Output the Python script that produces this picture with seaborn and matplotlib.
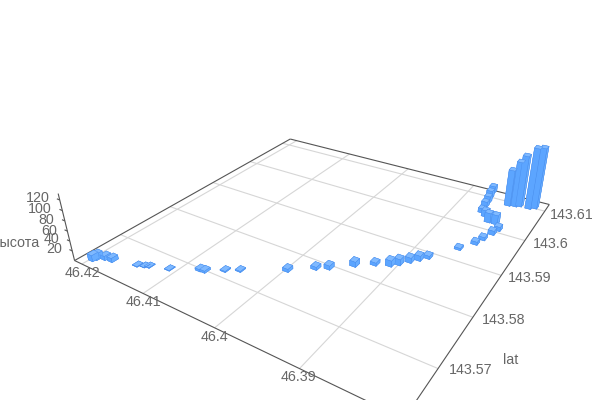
import numpy as np
import matplotlib
matplotlib.use("Agg")
import matplotlib.pyplot as plt
import seaborn as sns
from mpl_toolkits.mplot3d.art3d import Line3DCollection

# ── Data ─────────────────────────────────────────────────────────────────────
lon = [46.4197, 46.4195, 46.4187, 46.4177, 46.4146, 46.4138, 46.4133, 46.4110,
       46.4080, 46.4074, 46.4056, 46.4042, 46.3998, 46.3974, 46.3962, 46.3941,
       46.3923, 46.3908, 46.3901, 46.3893, 46.3886, 46.3879, 46.3857, 46.3845,
       46.3841, 46.3836, 46.3833, 46.3841, 46.3850, 46.3858, 46.3865, 46.3867,
       46.3868, 46.3870, 46.3872, 46.3843, 46.3835, 46.3830, 46.3818, 46.3812]
lat = [143.5637, 143.5642, 143.5648, 143.5650, 143.5661, 143.5665, 143.5668, 143.5678,
       143.5699, 143.5700, 143.5716, 143.5727, 143.5761, 143.5785, 143.5795, 143.5819,
       143.5836, 143.5845, 143.5854, 143.5867, 143.5878, 143.5889, 143.5932, 143.5957,
       143.5974, 143.5995, 143.6010, 143.6026, 143.6026, 143.6040, 143.6049, 143.6069,
       143.6085, 143.6101, 143.6122, 143.6092, 143.6095, 143.6099, 143.6099, 143.6105]
height = [12.5, 12.5, 8.4, 8.3, 1.0, 0.5, 1.0, 1.0,
          4.1, 4.1, 2.0, 2.0, 6.1, 6.1, 8.2, 10.2,
          6.1, 12.2, 12.3, 10.3, 10.3, 6.2, 4.2, 6.3,
          6.4, 8.6, 8.6, 19.6, 19.7, 13.3, 9.0, 11.3,
          13.7, 16.1, 14.0, 77.3, 96.2, 108.8, 128.8, 128.8]

lon_ticks = [46.42, 46.41, 46.40, 46.39]
lon_labels = ["46.42", "46.41", "46.4", "46.39"]
lat_ticks = [143.57, 143.58, 143.59, 143.60, 143.61]
lat_labels = ["143.57", "143.58", "143.59", "143.6", "143.61"]
z_ticks = [20, 40, 60, 80, 100, 120]
z_labels = ["20", "40", "60", "80", "100", "120"]

# ── Frame and camera ─────────────────────────────────────────────────────────
XMAX, XMIN, YMIN, YMAX, ZMAX = 46.4213, 46.3798, 143.562, 143.6125, 132
X0, Y0 = 46.4, 143.59
BAR_DX, BAR_DY = 0.00075, 0.0011

# where the floor grid sits in the picture (lon, lat, pixel x, pixel y)
FLOOR_ANCHORS = [
    (XMAX, YMIN, 73, 259), (46.42, YMIN, 83, 264), (46.41, YMIN, 143, 293),
    (46.40, YMIN, 215, 327), (46.39, YMIN, 299, 366),
    (XMAX, YMAX, 292, 138), (46.42, YMAX, 297, 140), (46.41, YMAX, 350, 153),
    (46.40, YMAX, 407, 168), (46.39, YMAX, 472, 185), (XMIN, YMAX, 550, 205),
    (XMIN, 143.61, 546, 209), (XMIN, 143.60, 523, 242), (XMIN, 143.59, 500, 278),
    (XMIN, 143.58, 473, 319), (XMIN, 143.57, 442, 368),
    (XMAX, 143.57, 120, 235), (XMAX, 143.58, 170, 208), (XMAX, 143.59, 212, 184),
    (XMAX, 143.60, 250, 163), (XMAX, 143.61, 283, 144),
]
VERTICAL_VANISH = np.array([340, 1344, 1.0])
Z_ANCHOR = (120, 200)  # z value, pixel y on the corner axis


def fit_camera():
    """Return the 3x4 data -> image pixel matrix of the reference's view."""
    rows = []
    for x, y, u, v in FLOOR_ANCHORS:
        a, b = (x - X0) * 100, (y - Y0) * 100
        rows.append([a, b, 1, 0, 0, 0, -u * a, -u * b, -u])
        rows.append([0, 0, 0, a, b, 1, -v * a, -v * b, -v])
    _, _, vt = np.linalg.svd(np.array(rows, float) / 100)
    H = vt[-1].reshape(3, 3)
    if H[2, 2] < 0:
        H = -H
    p = H @ [(XMAX - X0) * 100, (YMIN - Y0) * 100, 1]
    z, py = Z_ANCHOR
    s = (p[1] - py * p[2]) / (z * (py - VERTICAL_VANISH[1]))
    P = np.column_stack([H[:, 0], H[:, 1], s * VERTICAL_VANISH, H[:, 2]])
    shift = np.array([[100, 0, 0, -100 * X0],
                      [0, 100, 0, -100 * Y0],
                      [0, 0, 1, 0],
                      [0, 0, 0, 1]], float)
    return P @ shift


def px_text(u, v, s, **kw):
    fig.text(u / 600, 1 - v / 400, s, color="#666666", fontsize=10.3, va="center", **kw)


# ── Plot ─────────────────────────────────────────────────────────────────────
sns.set_theme(style="white")
plt.rcParams["font.family"] = ["Liberation Sans", "DejaVu Sans"]

fig = plt.figure(figsize=(6, 4), dpi=100)
# square box as wide as the figure: the 3D axes keep a 1:1 box
ax = fig.add_axes([0, -0.25, 1, 1.5], projection="3d")
ax.set_axis_off()
ax.computed_zorder = False

grid_segs = [[(x, YMIN, 0), (x, YMAX, 0)] for x in lon_ticks]
grid_segs += [[(XMIN, y, 0), (XMAX, y, 0)] for y in lat_ticks]
ax.add_collection3d(Line3DCollection(grid_segs, colors="#d6d6d6", linewidths=0.8, zorder=1))

corners = [(XMAX, YMIN, 0), (XMAX, YMAX, 0), (XMIN, YMAX, 0), (XMIN, YMIN, 0)]
frame_segs = [[corners[i], corners[(i + 1) % 4]] for i in range(4)]
frame_segs.append([(XMAX, YMIN, 0), (XMAX, YMIN, ZMAX)])
frame_segs += [[(XMAX, YMIN, z), (XMAX + 0.0005, YMIN, z)] for z in z_ticks]
ax.add_collection3d(Line3DCollection(frame_segs, colors="#555555", linewidths=0.8, zorder=2))

# faces: bottom, top, -y, +y, -x, +x
face_colors = ["#5ca5ff", "#7fb9ff", "#5ca5ff", "#5ca5ff", "#68adff", "#68adff"] * len(lon)
ax.bar3d(
    np.array(lon) - BAR_DX / 2, np.array(lat) - BAR_DY / 2, np.zeros(len(lon)),
    BAR_DX, BAR_DY, height,
    color=face_colors, edgecolor="#4a8fee", linewidth=0.3, shade=False, zorder=3,
)

# ── Tick labels ──────────────────────────────────────────────────────────────
for (u, v), s in zip([(82, 273), (143, 302), (214, 337), (298, 377)], lon_labels):
    px_text(u, v, s, ha="center")
for (u, v), s in zip([(471, 370), (504, 320), (530, 278), (551, 244), (572, 215)], lat_labels):
    px_text(u, v, s, ha="center")
for (u, v), s in zip([(62, 249), (59, 239), (57, 231), (54, 220), (52, 209), (50, 198)], z_labels):
    px_text(u, v, s, ha="right")
px_text(511, 360, "lat", ha="center")
px_text(39, 243, "высота", ha="right")

# ── Camera: map data straight to the reference's pixels ──────────────────────
ax.apply_aspect()
to_ax = ax.transData.inverted().get_matrix()
flip = np.array([[1, 0, 0], [0, -1, 400], [0, 0, 1]], float)
P = to_ax @ flip @ fit_camera()
depth = P[2] - np.array([0, 0, 0, P[2] @ [X0, Y0, 0, 1]])
M = np.vstack([P[0], P[1], depth, P[2]])
ax.get_proj = lambda: M

fig.savefig("out.png", dpi=100)
